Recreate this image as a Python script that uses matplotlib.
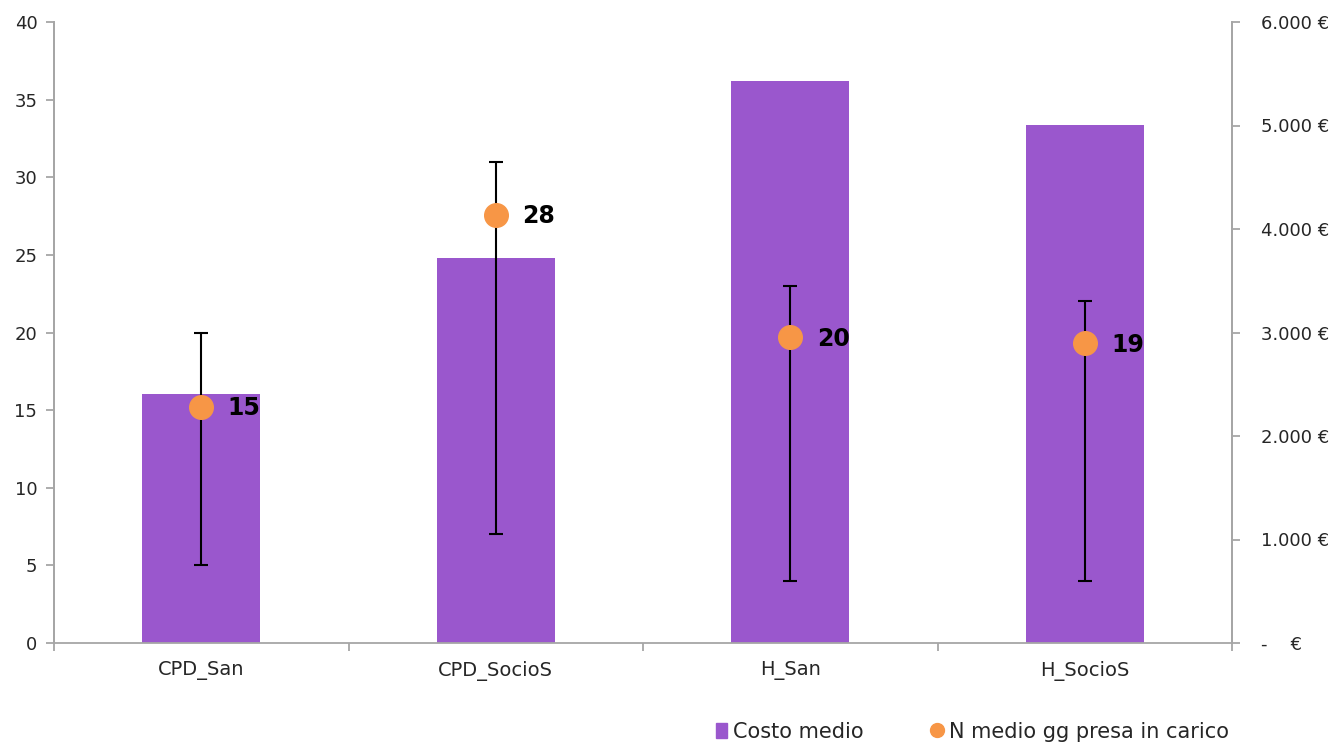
import matplotlib.pyplot as plt
from matplotlib.ticker import FuncFormatter
from matplotlib.lines import Line2D
from matplotlib.patches import Patch
import numpy as np

# data
categories = ['CPD_San', 'CPD_SocioS', 'H_San', 'H_SocioS']
costo_medio = [2406, 3720, 5430, 5005]
gg_medio = [15.2, 27.6, 19.7, 19.3]
gg_labels = ['15', '28', '20', '19']
gg_min = [5, 7, 4, 4]
gg_max = [20, 31, 23, 22]

bar_color = '#9a57cd'
dot_color = '#f79646'
grey = '#a6a6a6'
text_color = '#262626'

plt.rcParams['font.family'] = ['DejaVu Sans']

fig = plt.figure(figsize=(13.43, 7.47), dpi=100)
ax = fig.add_axes([54 / 1343, 1 - 643 / 747, (1232 - 54) / 1343, (643 - 22) / 747])
ax2 = ax.twinx()

x = np.arange(len(categories))

# bars on the right axis (euro)
ax2.bar(x, costo_medio, width=0.4, color=bar_color, zorder=1)
ax2.set_ylim(0, 6000)
ax2.set_yticks(np.arange(0, 6001, 1000))


def euro_fmt(v, pos):
    if v == 0:
        return '-    €'
    return '{:,.0f} €'.format(v).replace(',', '.')


ax2.yaxis.set_major_formatter(FuncFormatter(euro_fmt))

# points with min/max range on the left axis
ax.set_zorder(ax2.get_zorder() + 1)
ax.patch.set_visible(False)
err_low = np.array(gg_medio) - np.array(gg_min)
err_high = np.array(gg_max) - np.array(gg_medio)
ax.errorbar(x, gg_medio, yerr=[err_low, err_high], fmt='none', ecolor='black',
            elinewidth=1.5, capsize=5, capthick=1.5, zorder=2)
ax.plot(x, gg_medio, 'o', color=dot_color, markersize=17, zorder=3)
for xi, yi, lab in zip(x, gg_medio, gg_labels):
    ax.annotate(lab, (xi, yi), xytext=(19, -1), textcoords='offset points',
                ha='left', va='center', fontsize=17, fontweight='bold', color='black')

ax.set_ylim(0, 40)
ax.set_yticks(np.arange(0, 41, 5))
ax.set_xlim(-0.5, 3.5)
ax.set_xticks(x)
ax.set_xticklabels(categories)
ax.set_xticks(np.arange(-0.5, 3.6, 1), minor=True)

for a in (ax, ax2):
    a.spines['top'].set_visible(False)
    for s in ('left', 'right', 'bottom'):
        a.spines[s].set_color(grey)
        a.spines[s].set_linewidth(1.3)
    a.tick_params(colors=grey, labelcolor=text_color, labelsize=13, width=1.3)

ax.tick_params(axis='x', which='major', length=0, pad=13, labelsize=14)
ax.tick_params(axis='x', which='minor', length=6, width=1.3, color=grey)
ax.tick_params(axis='y', length=6, pad=6)
ax2.tick_params(axis='y', length=6, pad=15)
ax2.spines['bottom'].set_visible(False)

handles = [Patch(color=bar_color, label='Costo medio'),
           Line2D([], [], marker='o', color=dot_color, linestyle='none',
                  markersize=10, label='N medio gg presa in carico')]
fig.legend(handles=handles, loc='lower right', bbox_to_anchor=(0.929, -0.018), ncol=2,
           frameon=False, fontsize=15, handlelength=0.5, handletextpad=0.3,
           columnspacing=3.3, labelcolor=text_color)

fig.savefig('out.png', dpi=100)
